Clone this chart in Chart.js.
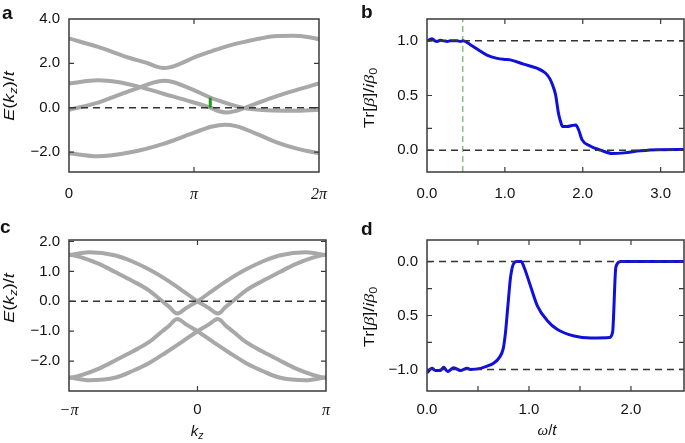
<!DOCTYPE html>
<html>
<head>
<meta charset="utf-8">
<script src="https://cdn.jsdelivr.net/npm/chart.js@4.4.1/dist/chart.umd.min.js"></script>
<style>
  body { margin: 0; width: 685px; height: 443px; background: #fff; position: relative; overflow: hidden;
         font-family: "Liberation Sans", Arial, sans-serif; color: #111; }
  .panel { position: absolute; }
  .letter { position: absolute; font-weight: bold; font-size: 19px; line-height: 19px; }
  .ytitle { position: absolute; font-size: 15px; line-height: 1; white-space: nowrap;
            transform: translate(-50%, -50%) rotate(-90deg) scaleX(1.2); }
  .xtitle { position: absolute; font-size: 15px; line-height: 1; white-space: nowrap;
            transform: translate(-50%, -50%); }
  sub { font-size: 0.7em; vertical-align: -0.3em; line-height: 0; }
  .sym { font-family: "Liberation Serif", serif; font-style: italic; }
</style>
</head>
<body>
<canvas class="panel" id="pa" width="340" height="222" style="left:0;top:0"></canvas>
<canvas class="panel" id="pb" width="345" height="222" style="left:340px;top:0"></canvas>
<canvas class="panel" id="pc" width="340" height="221" style="left:0;top:222px"></canvas>
<canvas class="panel" id="pd" width="345" height="221" style="left:340px;top:222px"></canvas>

<div class="letter" style="left:2px;top:3px">a</div>
<div class="letter" style="left:361px;top:2px">b</div>
<div class="letter" style="left:0;top:217px">c</div>
<div class="letter" style="left:361px;top:219px">d</div>

<div class="ytitle" style="left:8px;top:96px"><i>E</i>(<i>k<sub>z</sub></i>)/<i>t</i></div>
<div class="ytitle" style="left:369px;top:98px">Tr[<span class="sym">β</span>]/<i>i</i><span class="sym">β</span><sub>0</sub></div>
<div class="ytitle" style="left:8px;top:298px"><i>E</i>(<i>k<sub>z</sub></i>)/<i>t</i></div>
<div class="ytitle" style="left:369px;top:317px">Tr[<span class="sym">β</span>]/<i>i</i><span class="sym">β</span><sub>0</sub></div>
<div class="xtitle" style="left:197px;top:430px"><i>k<sub>z</sub></i></div>
<div class="xtitle" style="left:547px;top:430px"><span class="sym">ω</span>/<i>t</i></div>

<script>
  // -- panel a: bands over kz in [0, 2pi] -----------------------------------
  const bandA1 = [[0,3.12],[0.73,2.74],[1.55,2.23],[1.96,2.02],[2.2,1.85],[2.37,1.79],[2.55,1.83],[2.78,1.97],
                  [3.18,2.29],[3.59,2.55],[4.0,2.79],[4.41,2.97],[4.81,3.12],[5.22,3.23],[5.63,3.24],[6.04,3.18],[6.28,3.09]];
  const bandA2 = [[0,1.09],[0.73,1.24],[1.22,1.16],[1.8,0.93],[2.37,0.63],[2.94,0.34],[3.55,0.0],[3.75,-0.15],
                  [3.96,-0.22],[4.16,-0.16],[4.41,-0.02],[4.8,0.25],[5.22,0.52],[5.79,0.84],[6.28,1.09]];
  const bandA3 = [[0,-0.09],[0.73,0.23],[1.22,0.56],[1.8,0.93],[2.1,1.12],[2.37,1.22],[2.61,1.16],[3.18,0.76],
                  [3.55,0.46],[3.75,0.33],[4.41,-0.02],[4.98,-0.12],[5.63,-0.14],[6.28,-0.09]];
  const bandA4 = [[0,-2.05],[0.73,-2.19],[1.55,-2.01],[2.37,-1.63],[3.18,-1.1],[3.6,-0.85],[3.92,-0.77],[4.2,-0.83],
                  [4.41,-0.95],[5.22,-1.56],[5.8,-1.88],[6.28,-2.05]];
  const gapA = [[3.55,0],[3.55,0.46]];
  const xTicksA = [0, Math.PI, 2 * Math.PI], xLabelsA = ["0", "π", "2π"];
  const yTicksA = [-2, 0, 2, 4], yLabelsA = ["−2.0", "0.0", "2.0", "4.0"];

  // -- panel b: Tr[beta]/i beta0 vs omega/t ----------------------------------
  const curveB = [[0,1.0],[0.03,1.01],[0.065,1.02],[0.1,1.0],[0.13,0.995],[0.17,1.005],[0.215,1.0],[0.26,0.995],
                  [0.3,1.0],[0.35,1.0],[0.386,1.0],[0.43,0.995],[0.463,1.0],[0.557,0.965],[0.643,0.925],[0.77,0.87],
                  [0.9,0.84],[1.0,0.83],[1.07,0.826],[1.24,0.787],[1.41,0.75],[1.52,0.706],[1.58,0.65],[1.61,0.6],
                  [1.65,0.51],[1.69,0.33],[1.72,0.25],[1.74,0.216],[1.8,0.216],[1.86,0.225],[1.91,0.23],[1.95,0.18],
                  [1.99,0.096],[2.1,0.036],[2.23,0.0],[2.38,-0.03],[2.53,-0.025],[2.74,-0.006],[2.96,0.004],[3.3,0.005]];
  const markB = 0.46;
  const xTicksB = [0, 1, 2, 3], xLabelsB = ["0.0", "1.0", "2.0", "3.0"];
  const yTicksB = [0, 0.2, 0.5, 1.0], yLabelsB = ["0.0", "", "0.5", "1.0"];

  // -- panel c: bands over kz in [-pi, pi] ----------------------------------
  const bandC1 = [[-3.14,1.55],[-2.65,1.64],[-2.0,1.53],[-1.59,1.33],[-1.18,1.06],[-0.78,0.74],[-0.37,0.36],[0,0],
                  [0.28,-0.23],[0.42,-0.37],[0.49,-0.41],[0.56,-0.37],[0.68,-0.2],[0.86,0],[1.18,0.36],[1.59,0.68],
                  [2.0,0.97],[2.41,1.25],[2.82,1.46],[3.14,1.57]];
  const bandC2 = [[-3.14,1.57],[-2.82,1.46],[-2.41,1.25],[-2.0,0.97],[-1.59,0.68],[-1.18,0.36],[-0.86,0],[-0.68,-0.2],
                  [-0.56,-0.37],[-0.49,-0.41],[-0.42,-0.37],[-0.28,-0.23],[0,0],[0.37,0.36],[0.78,0.74],[1.18,1.06],
                  [1.59,1.33],[2.0,1.53],[2.65,1.64],[3.14,1.55]];
  const bandC3 = [[-3.14,-2.54],[-2.65,-2.64],[-2.0,-2.55],[-1.59,-2.33],[-1.18,-2.06],[-0.78,-1.72],[-0.37,-1.35],[0,-1.0],
                  [0.28,-0.77],[0.42,-0.63],[0.49,-0.59],[0.56,-0.63],[0.68,-0.8],[0.86,-1.0],[1.18,-1.36],[1.59,-1.68],
                  [2.0,-1.97],[2.41,-2.25],[2.82,-2.46],[3.14,-2.57]];
  const bandC4 = [[-3.14,-2.57],[-2.82,-2.46],[-2.41,-2.25],[-2.0,-1.97],[-1.59,-1.68],[-1.18,-1.36],[-0.86,-1.0],[-0.68,-0.8],
                  [-0.56,-0.63],[-0.49,-0.59],[-0.42,-0.63],[-0.28,-0.77],[0,-1.0],[0.37,-1.35],[0.78,-1.72],[1.18,-2.06],
                  [1.59,-2.33],[2.0,-2.55],[2.65,-2.64],[3.14,-2.54]];
  const xTicksC = [-Math.PI, 0, Math.PI], xLabelsC = ["−π", "0", "π"];
  const yTicksC = [-2, -1, 0, 1, 2], yLabelsC = ["−2.0", "−1.0", "0.0", "1.0", "2.0"];

  // -- panel d --------------------------------------------------------------
  const curveD = [[0,-1.03],[0.049,-0.99],[0.082,-1.01],[0.131,-1.01],[0.164,-0.98],[0.203,-1.02],[0.262,-0.985],
                  [0.328,-1.01],[0.394,-0.99],[0.426,-1.0],[0.525,-0.99],[0.59,-0.97],[0.656,-0.94],[0.705,-0.895],
                  [0.748,-0.805],[0.77,-0.654],[0.793,-0.412],[0.82,-0.14],[0.852,-0.014],[0.885,0.0],[0.924,0.0],
                  [0.951,-0.05],[1.016,-0.23],[1.082,-0.41],[1.18,-0.548],[1.279,-0.63],[1.443,-0.69],[1.606,-0.708],
                  [1.787,-0.705],[1.82,-0.654],[1.852,-0.05],[1.9,0.0],[2.52,0.0]];
  const xTicksD = [0, 0.5, 1, 1.5, 2], xLabelsD = ["0.0", "", "1.0", "", "2.0"];
  const yTicksD = [-1, -0.75, -0.5, -0.25, 0], yLabelsD = ["−1.0", "", "0.5", "", "0.0"];

  const GRAY = "#a8a8a8", BLUE = "#1010dc", DASH = "#333";
  const pts = (arr) => arr.map(([x, y]) => ({ x, y }));

  function curve(arr, color, width) {
    return { data: pts(arr), borderColor: color, borderWidth: width, pointRadius: 0,
             cubicInterpolationMode: "monotone" };
  }
  function hline(y, x0, x1) {
    return { data: [{ x: x0, y }, { x: x1, y }], borderColor: DASH, borderWidth: 1.5,
             borderDash: [7, 5], pointRadius: 0, tension: 0 };
  }

  // box + inward tick marks on all four sides
  const frame = {
    id: "frame",
    afterDatasetsDraw(chart) {
      const { ctx, chartArea: a, scales } = chart;
      const len = 5;
      ctx.save();
      ctx.strokeStyle = "#3a3a3a";
      ctx.lineWidth = 1.2;
      ctx.beginPath();
      for (const t of scales.x.ticks) {
        const px = scales.x.getPixelForValue(t.value);
        if (px <= a.left + 1 || px >= a.right - 1) continue;
        ctx.moveTo(px, a.bottom); ctx.lineTo(px, a.bottom - len);
        ctx.moveTo(px, a.top); ctx.lineTo(px, a.top + len);
      }
      for (const t of scales.y.ticks) {
        const py = scales.y.getPixelForValue(t.value);
        if (py <= a.top + 1 || py >= a.bottom - 1) continue;
        ctx.moveTo(a.left, py); ctx.lineTo(a.left + len, py);
        ctx.moveTo(a.right, py); ctx.lineTo(a.right - len, py);
      }
      ctx.stroke();
      ctx.lineWidth = 1.5;
      ctx.strokeRect(a.left, a.top, a.right - a.left, a.bottom - a.top);
      ctx.restore();
    },
  };

  function axis(o, dir) {
    return {
      type: "linear", min: o.min, max: o.max,
      grid: { display: false, drawTicks: false }, border: { display: false },
      afterBuildTicks: (s) => { s.ticks = o.ticks.map((v) => ({ value: v })); },
      afterFit: (s) => { if (dir === "x") s.height = o.size; else s.width = o.size; },
      ticks: {
        autoSkip: false, maxRotation: 0, padding: o.pad, color: "#111",
        callback: (v, i) => o.labels[i],
        font: (c) => (c.tick && /π/.test(c.tick.label))
          ? { family: "'Liberation Serif', serif", size: 16, style: "italic" }
          : { family: "'Liberation Sans', Arial, sans-serif", size: 15 },
      },
    };
  }

  function panel(id, o) {
    return new Chart(document.getElementById(id), {
      type: "line",
      data: { datasets: o.datasets },
      options: {
        responsive: false, animation: false, events: [],
        layout: { padding: o.pad },
        plugins: { legend: { display: false }, tooltip: { enabled: false } },
        scales: { x: axis(o.x, "x"), y: axis(o.y, "y") },
      },
      plugins: [frame],
    });
  }

  panel("pa", {
    pad: { left: 0, top: 19, right: 14, bottom: 0 },
    x: { min: 0, max: 2 * Math.PI, ticks: xTicksA, labels: xLabelsA, size: 50, pad: 13 },
    y: { min: -2.9, max: 4.0, ticks: yTicksA, labels: yLabelsA, size: 69, pad: 9 },
    datasets: [
      hline(0, 0, 2 * Math.PI),
      { data: pts(gapA), borderColor: "#1f9a1f", borderWidth: 3, pointRadius: 0, tension: 0 },
      curve(bandA1, GRAY, 4), curve(bandA2, GRAY, 4), curve(bandA3, GRAY, 4), curve(bandA4, GRAY, 4),
    ],
  });

  panel("pb", {
    pad: { left: 0, top: 19, right: 1, bottom: 0 },
    x: { min: 0, max: 3.3, ticks: xTicksB, labels: xLabelsB, size: 50, pad: 13 },
    y: { min: -0.2, max: 1.2, ticks: yTicksB, labels: yLabelsB, size: 87, pad: 9 },
    datasets: [
      hline(1, 0, 3.3), hline(0, 0, 3.3),
      curve(curveB, BLUE, 3),
      { data: [{ x: markB, y: -0.2 }, { x: markB, y: 1.2 }], borderColor: "#4aa34a", borderWidth: 1,
        borderDash: [6, 4], pointRadius: 0, tension: 0 },
    ],
  });

  panel("pc", {
    pad: { left: 0, top: 13, right: 14, bottom: 0 },
    x: { min: -Math.PI, max: Math.PI, ticks: xTicksC, labels: xLabelsC, size: 52, pad: 10 },
    y: { min: -3.0, max: 2.05, ticks: yTicksC, labels: yLabelsC, size: 69, pad: 9 },
    datasets: [
      hline(0, -Math.PI, Math.PI),
      curve(bandC1, GRAY, 4), curve(bandC2, GRAY, 4), curve(bandC3, GRAY, 4), curve(bandC4, GRAY, 4),
    ],
  });

  panel("pd", {
    pad: { left: 0, top: 12, right: 1, bottom: 0 },
    x: { min: 0, max: 2.52, ticks: xTicksD, labels: xLabelsD, size: 52, pad: 10 },
    y: { min: -1.2, max: 0.2, ticks: yTicksD, labels: yLabelsD, size: 87, pad: 9 },
    datasets: [
      hline(0, 0, 2.52), hline(-1, 0, 2.52),
      curve(curveD, BLUE, 3),
    ],
  });
</script>
</body>
</html>
